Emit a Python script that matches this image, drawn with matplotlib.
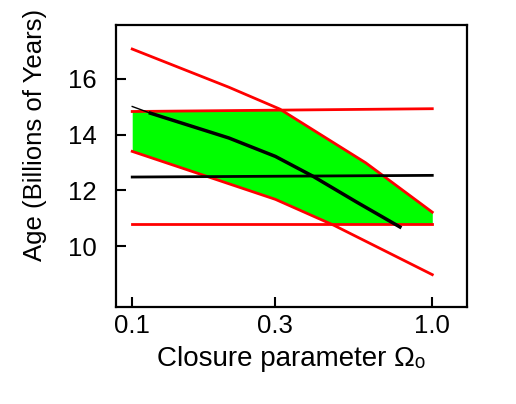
import numpy as np
import matplotlib
matplotlib.use("Agg")
import matplotlib.pyplot as plt

plt.rcParams['font.family'] = ['Liberation Sans', 'DejaVu Sans']

# upper and lower age limits from the expansion rate (red, sloping)
omega_hi = [0.1, 0.21, 0.31, 0.6, 1.0]
age_hi = [17.07, 15.70, 14.92, 12.99, 11.22]
omega_lo = [0.1, 0.17, 0.3, 0.47, 1.0]
age_lo = [13.40, 12.57, 11.68, 10.75, 8.98]

# limits from globular cluster ages (red, flat)
omega_ends = [0.1, 1.0]
age_top = [14.83, 14.93]
age_bottom = [10.79, 10.79]

# best estimates (black)
age_flat = [12.48, 12.54]
omega_best = [0.1, 0.115, 0.21, 0.30, 0.40, 0.56, 0.78]
age_best = [15.01, 14.77, 13.88, 13.22, 12.51, 11.58, 10.69]

xticks = [0.1, 0.3, 1.0]
xtick_labels = ['0.1', '0.3', '1.0']
yticks = [10, 12, 14, 16]

fig = plt.figure(figsize=(5.16, 4.04), dpi=100)
ax = fig.add_axes([0.2248, 0.2401, 0.6802, 0.6979])
ax.set_xscale('log')

# allowed region = overlap of both bands
grid = np.logspace(-1, 0, 400)
lg = np.log10(grid)
top = np.minimum(np.interp(lg, np.log10(omega_hi), age_hi),
                 np.interp(lg, np.log10(omega_ends), age_top))
bot = np.maximum(np.interp(lg, np.log10(omega_lo), age_lo),
                 np.interp(lg, np.log10(omega_ends), age_bottom))
ax.fill_between(grid, bot, top, where=top > bot, color='#00ff00', lw=0)

red = '#ff0000'
ax.plot(omega_hi, age_hi, color=red, lw=2.0)
ax.plot(omega_lo, age_lo, color=red, lw=2.0)
ax.plot(omega_ends, age_top, color=red, lw=2.0)
ax.plot(omega_ends, age_bottom, color=red, lw=2.0)

ax.plot(omega_ends, age_flat, color='black', lw=2.0)
ax.plot(omega_best[:2], age_best[:2], color='black', lw=1.0)
ax.plot(omega_best[1:], age_best[1:], color='black', lw=2.5)

ax.set_xlim(0.0883, 1.305)
ax.set_ylim(7.82, 17.93)
ax.set_xticks(xticks)
ax.set_xticklabels(xtick_labels)
ax.minorticks_off()
ax.set_yticks(yticks)
ax.tick_params(direction='in', length=7, width=1.5, labelsize=18.5)
ax.tick_params(axis='y', pad=14)
ax.tick_params(axis='x', pad=5)

for s in ax.spines.values():
    s.set_linewidth(1.6)

ax.set_xlabel('Closure parameter Ωₒ', fontsize=20, labelpad=6)
fig.text(0.068, 0.665, 'Age (Billions of Years)', rotation=90, fontsize=18.5,
         ha='center', va='center')

fig.savefig('out.png', dpi=100)
